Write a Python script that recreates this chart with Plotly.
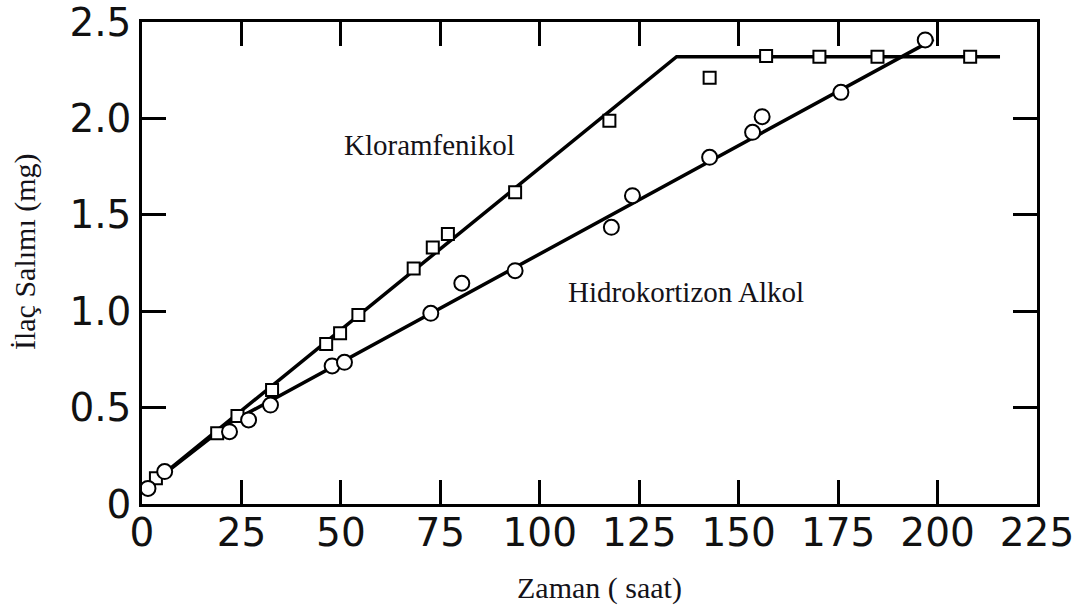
import plotly.graph_objects as go

# Measured release data (time in hours, released drug in mg)
klor_t = [3.5, 18.9, 24.0, 32.7, 46.3, 49.8, 54.4, 68.3, 73.1, 76.9, 93.8, 117.5, 142.7, 156.9, 170.3, 184.9, 208.2]
klor_mg = [0.133, 0.367, 0.456, 0.591, 0.830, 0.885, 0.980, 1.222, 1.331, 1.400, 1.617, 1.988, 2.211, 2.324, 2.320, 2.320, 2.320]

hidro_t = [1.5, 5.7, 22.0, 26.8, 32.3, 47.8, 50.9, 72.6, 80.4, 93.8, 118.0, 123.3, 142.7, 153.5, 155.9, 175.7, 196.9]
hidro_mg = [0.081, 0.168, 0.375, 0.436, 0.513, 0.716, 0.735, 0.989, 1.145, 1.210, 1.435, 1.599, 1.798, 1.928, 2.009, 2.135, 2.407]

# Fitted lines (vertices)
klor_fit_t = [1.5, 134.4, 215.7]
klor_fit_mg = [0.09, 2.32, 2.32]
hidro_fit_t = [1.5, 22.0, 199.0]
hidro_fit_mg = [0.09, 0.42, 2.41]

x_ticks = [0, 25, 50, 75, 100, 125, 150, 175, 200, 225]
x_labels = ["0", "25", "50", "75", "100", "125", "150", "175", "200", "225"]
y_ticks = [0, 0.5, 1.0, 1.5, 2.0, 2.5]
y_labels = ["0", "0.5", "1.0", "1.5", "2.0", "2.5"]

fig = go.Figure()

fig.add_trace(go.Scatter(x=klor_fit_t, y=klor_fit_mg, mode="lines",
                         line=dict(color="black", width=3.5), showlegend=False))
fig.add_trace(go.Scatter(x=hidro_fit_t, y=hidro_fit_mg, mode="lines",
                         line=dict(color="black", width=3.5), showlegend=False))
fig.add_trace(go.Scatter(x=klor_t, y=klor_mg, mode="markers",
                         marker=dict(symbol="square", size=12, color="white",
                                     line=dict(color="black", width=2)),
                         showlegend=False))
fig.add_trace(go.Scatter(x=hidro_t, y=hidro_mg, mode="markers",
                         marker=dict(symbol="circle", size=15, color="white",
                                     line=dict(color="black", width=2)),
                         showlegend=False))

serif = "Times New Roman, Liberation Serif, serif"
title_color = "#141218"

fig.add_annotation(x=72.2, y=1.86, xref="x", yref="y", text="Kloramfenikol",
                   showarrow=False, xanchor="center", yanchor="middle",
                   font=dict(family=serif, size=29, color=title_color))
fig.add_annotation(x=136.8, y=1.10, xref="x", yref="y", text="Hidrokortizon Alkol",
                   showarrow=False, xanchor="center", yanchor="middle",
                   font=dict(family=serif, size=29, color=title_color))

# Axis titles
fig.add_annotation(x=0.5117, y=-0.174, xref="paper", yref="paper", text="Zaman ( saat)",
                   showarrow=False, xanchor="center", yanchor="middle",
                   font=dict(family=serif, size=30, color=title_color))
fig.add_annotation(x=-0.1307, y=0.5228, xref="paper", yref="paper", text="İlaç Salımı (mg)",
                   showarrow=False, xanchor="center", yanchor="middle", textangle=-90,
                   font=dict(family=serif, size=30, color=title_color))

axis_common = dict(
    showgrid=False, zeroline=False, automargin=False, ticklabeloverflow="allow",
    showline=True, linecolor="black", linewidth=2.5, mirror="allticks",
    ticks="inside", ticklen=24, tickwidth=2.5, tickcolor="black",
    tickfont=dict(family="DejaVu Sans, sans-serif", size=39, color="#111"),
)

fig.update_xaxes(range=[0, 225], tickvals=x_ticks, ticktext=x_labels,
                 ticklabelstandoff=-8, **axis_common)
fig.update_yaxes(range=[0, 2.5], tickvals=y_ticks, ticktext=y_labels, **axis_common)

fig.update_layout(
    width=1079, height=610,
    margin=dict(l=142, r=42, t=22, b=106),
    plot_bgcolor="white", paper_bgcolor="white",
)

fig.write_html("out.html")
